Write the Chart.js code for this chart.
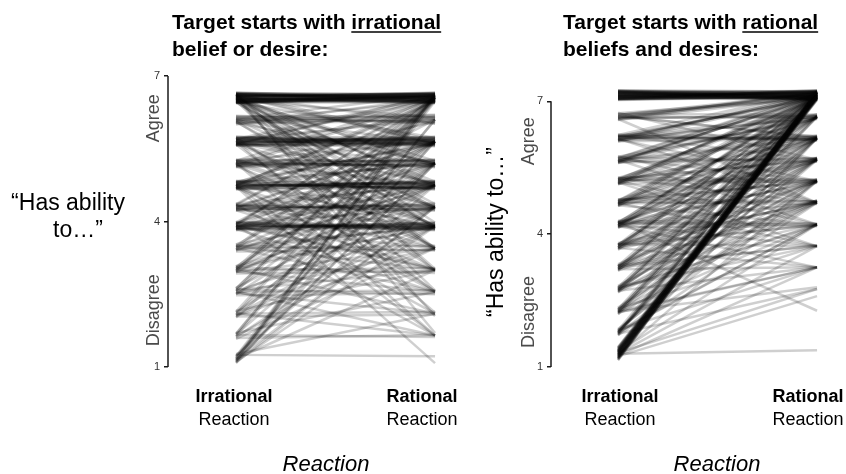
<!DOCTYPE html>
<html>
<head>
<meta charset="utf-8">
<script src="https://cdn.jsdelivr.net/npm/chart.js@4.4.1/dist/chart.umd.min.js"></script>
<style>
  html, body { margin: 0; padding: 0; background: #ffffff; }
  #wrap { position: relative; width: 846px; height: 474px; overflow: hidden; }
  canvas { position: absolute; top: 0; }
</style>
</head>
<body>
<div id="wrap">
  <canvas id="c1" width="460" height="474" style="left:0px"></canvas>
  <canvas id="c2" width="386" height="474" style="left:460px"></canvas>
</div>
<script>
// ---------- DATA ----------
const reactionLabels = ["Irrational", "Rational"];
const yTicks = [1, 4, 7];

// Left panel: target starts with irrational belief or desire
const leftIrrational = [
  6.45,6.50,6.56,6.62,6.48,6.53,6.59,6.65,6.46,6.51,
  6.57,6.63,6.44,6.49,6.55,6.61,6.66,6.47,6.52,6.58,
  6.64,6.50,6.54,6.60,6.46,6.56,6.62,6.49,6.53,6.59,
  6.45,6.63,
  6.50,6.60,6.47,6.58,6.64,6.52,6.56,6.48,6.62,6.54,6.45,6.60,6.51,6.57,6.63,6.49,6.55,6.61,
  6.02,6.10,6.18,6.06,6.14,6.00,6.12,6.08,6.16,6.04,6.11,6.07,
  5.56,5.62,5.68,5.74,5.59,5.65,5.71,5.57,5.63,5.69,5.75,5.60,5.66,5.72,
  5.61,5.67,5.58,5.70,5.64,5.62,5.68,5.60,5.73,5.66,
  5.12,5.18,5.24,5.28,5.15,5.21,5.26,5.13,5.19,5.25,5.16,5.22,5.27,5.14,5.20,5.23,
  4.66,4.72,4.78,4.84,4.69,4.75,4.81,4.67,4.73,
  4.79,4.70,4.76,4.82,4.68,4.74,4.80,4.71,4.77,4.83,4.69,4.75,4.72,
  4.22,4.28,4.34,4.25,4.31,4.37,4.24,4.30,4.36,4.27,4.33,4.29,4.23,4.35,
  3.82,3.88,3.94,3.99,3.85,3.91,3.97,3.84,
  3.90,3.96,3.83,3.89,3.95,3.86,3.92,3.98,3.87,3.93,3.85,3.91,
  3.38,3.44,3.50,3.41,3.47,3.53,3.40,3.46,3.52,3.43,3.49,3.45,
  2.93,2.99,3.05,2.96,3.02,3.08,2.95,3.01,3.07,2.98,3.04,2.97,3.03,
  2.48,2.54,2.60,2.51,2.57,2.63,2.50,2.56,2.62,2.53,2.59,2.55,
  2.04,2.10,2.16,2.06,2.12,2.08,2.14,2.02,2.11,2.07,
  1.60,1.66,1.70,1.62,1.68,1.64,1.58,1.67,
  1.25,1.10,1.16,1.22,1.08,1.13,1.19,1.24,1.11,1.17,1.21,1.14,1.27,1.09,
  6.47,6.52,6.58,6.63,6.45,6.50,6.55,6.60,6.65,6.48,6.53,6.57,6.62,6.46,6.51,6.56,6.61,6.64,
  5.58,5.63,5.69,5.74,5.60,5.66,5.71,5.57,5.64,5.70,
  4.68,4.74,4.80,4.71,4.77,4.83,4.70,4.76,
  3.84,3.90,3.96,3.87,3.93,3.86,3.92,3.98,
  6.04,6.12,6.17,6.07,
  5.14,5.20,5.26,5.17,5.23,
  4.26,4.32,4.24,4.35,
  6.50,6.58,6.47,6.62,6.53,6.56,6.60,
  6.09,6.13,6.05,
  5.61,5.67,5.63,5.70,5.59,
  5.18,5.24,5.15,5.21,
  4.73,4.79,4.70,4.76,4.81,
  4.28,4.34,4.25,4.31,
  3.88,3.94,3.85,3.91,3.97,
  3.42,3.48,3.50,
  2.97,3.03,3.06,2.99,
  2.52,2.58,2.61,
  2.05,2.13,
  1.63,1.69,
  1.12,1.18,1.15
];
const leftRational = [
  6.52,6.60,6.47,6.55,6.64,6.50,6.58,6.62,6.45,6.56,
  6.63,6.49,6.57,6.53,6.66,6.46,6.54,6.61,6.48,6.59,
  6.51,6.65,6.44,6.57,6.60,6.52,6.63,6.47,6.55,6.62,
  6.58,6.50,
  6.14,6.02,5.72,5.60,5.66,5.25,5.13,4.82,4.70,4.36,4.24,3.98,3.84,3.40,3.02,2.58,2.05,1.70,
  6.08,6.16,6.02,6.12,6.20,6.55,6.62,6.48,5.62,5.20,4.75,3.45,
  5.60,5.70,5.57,5.66,5.74,5.62,5.68,5.55,5.72,5.64,5.59,5.66,5.71,5.63,
  6.55,6.50,6.62,6.10,6.16,5.20,4.80,3.92,3.00,2.12,
  5.18,5.26,5.12,5.22,5.28,5.15,5.65,5.70,6.55,6.60,6.05,4.72,4.32,3.48,2.56,3.95,
  4.70,4.80,4.68,4.76,4.84,4.73,4.66,4.78,4.82,
  5.20,5.25,5.65,5.60,6.55,6.48,6.10,4.30,3.90,3.86,3.00,1.65,1.08,
  4.26,4.34,4.22,4.38,4.30,4.75,4.80,5.65,6.55,5.20,3.92,3.45,3.00,2.10,
  3.86,3.94,3.82,3.90,3.98,3.88,3.84,3.92,
  4.30,4.28,4.75,4.80,5.65,5.20,6.55,6.10,3.45,3.02,2.55,1.65,
  3.42,3.50,3.40,3.92,3.88,4.30,4.75,5.20,5.65,6.55,3.00,2.55,
  2.98,3.04,2.94,3.45,3.90,4.30,4.75,5.20,5.65,6.55,6.60,2.55,2.10,
  2.52,2.58,2.50,3.45,3.90,4.75,5.20,6.55,6.50,2.10,3.00,1.65,
  2.08,2.14,3.00,3.90,4.75,6.55,6.58,5.65,1.65,4.30,
  1.66,1.62,2.55,4.30,6.55,6.50,3.45,5.20,
  1.22,6.55,6.60,6.48,5.65,6.62,5.65,4.75,3.90,3.00,6.10,5.20,2.10,4.30,
  6.49,6.57,6.62,6.53,6.60,6.46,6.51,6.64,6.55,6.58,6.48,6.65,6.50,6.56,6.61,6.45,6.59,6.63,
  5.62,5.68,5.58,5.73,5.65,5.56,5.70,5.61,5.75,5.67,
  4.72,4.79,4.70,4.83,4.67,4.75,4.81,4.69,
  3.89,3.96,3.85,3.93,3.83,3.97,3.90,3.87,
  6.11,6.05,6.15,6.19,
  5.21,5.14,5.27,5.19,5.25,
  4.29,4.24,4.35,4.31,
  5.18,4.28,3.88,3.45,2.98,4.75,5.62,
  4.30,5.20,3.90,
  4.30,3.45,4.78,6.58,2.55,
  3.92,4.75,6.52,1.65,
  6.58,5.62,3.45,2.55,5.20,
  5.65,6.52,3.90,4.75,
  5.62,6.52,4.75,3.00,5.20,
  4.75,6.58,3.90,
  4.75,5.65,3.90,6.52,
  4.30,5.65,6.58,
  3.45,5.20,
  3.90,6.58,
  5.20,6.10,4.30
];

// Right panel: target starts with rational beliefs and desires
const rightIrrational = [
  7.03,7.08,7.14,7.20,7.25,7.05,7.11,7.17,7.22,7.06,
  7.12,7.18,7.24,7.04,7.09,7.15,7.21,7.07,7.13,7.19,
  7.23,7.10,7.16,7.05,7.12,7.18,7.08,7.22,7.14,7.06,
  7.20,7.11,
  6.58,6.64,6.70,6.61,6.67,6.73,6.59,6.65,6.71,6.62,6.68,6.74,6.60,6.66,
  6.09,6.15,6.21,6.12,6.18,6.24,6.10,6.16,6.22,6.13,6.19,6.25,6.11,6.17,6.23,6.14,6.20,6.16,
  5.60,5.66,5.72,5.63,5.69,5.75,5.61,5.67,5.73,5.64,5.70,5.76,5.62,5.68,5.65,
  5.12,5.18,5.24,5.15,5.21,5.27,5.13,5.19,5.25,5.16,5.22,5.28,5.14,5.20,5.26,5.17,
  4.63,4.69,4.75,4.66,4.72,4.78,4.64,4.70,4.76,4.67,4.73,4.79,4.65,4.71,4.74,
  4.14,4.20,4.26,4.17,4.23,4.29,4.15,4.21,4.27,4.18,4.24,4.30,4.16,4.22,4.28,4.19,4.25,
  3.65,3.71,3.77,3.68,3.74,3.80,3.66,3.72,3.78,3.69,3.75,3.70,3.76,
  3.17,3.23,3.29,3.20,3.26,3.32,3.18,3.24,3.30,3.21,3.27,3.22,3.28,
  2.68,2.74,2.80,2.71,2.77,2.83,2.69,2.75,2.81,2.72,2.78,2.74,
  2.19,2.25,2.31,2.22,2.28,2.34,2.20,2.26,2.32,2.23,2.29,2.25,
  1.71,1.77,1.83,1.74,1.80,1.86,1.72,1.78,1.84,1.75,1.81,1.77,
  1.15,1.20,1.25,1.30,1.35,1.40,1.45,1.18,1.22,1.28,
  1.32,1.38,1.42,1.17,1.24,1.27,1.33,1.37,1.43,1.21,
  1.26,1.31,1.36,1.19,1.29,1.34,1.23,1.39,
  1.30,1.32,1.26,1.34,1.28,1.36,1.24,1.30,
  7.04,7.09,7.15,7.21,7.24,7.06,7.12,7.18,7.23,7.07,7.13,7.19,7.10,7.16,7.22,7.05,7.11,7.17,
  1.16,1.23,1.29,1.35,1.41,1.19,1.26,1.32,1.38,1.44,1.21,1.34,
  6.63,6.69,6.61,
  6.14,6.20,6.12,6.22,6.18,
  5.64,5.71,5.66,5.70,5.62,
  5.16,5.23,5.19,5.25,5.14,5.22,
  4.68,4.74,4.66,4.72,4.77,4.70,4.69,
  4.19,4.25,4.21,4.27,4.17,4.23,4.20,4.26,
  3.70,3.76,3.68,3.74,3.71,3.77,
  3.22,3.28,3.20,3.26,3.24,
  2.73,2.79,2.71,2.77,2.75,
  2.24,2.30,2.22,2.28,2.26,
  1.76,1.82,1.74,1.80,1.78
];
const rightRational = [
  7.10,7.18,7.05,7.13,7.22,7.25,7.08,7.16,7.03,7.20,
  7.12,7.07,7.19,7.14,7.23,7.09,7.17,7.04,7.21,7.11,
  7.15,7.06,7.24,7.13,7.19,7.10,7.22,7.08,7.16,7.12,
  7.05,7.20,
  7.10,7.18,7.05,7.22,7.14,7.08,7.20,6.62,6.70,6.66,6.17,5.68,4.71,6.20,
  7.12,7.20,7.06,7.16,7.10,7.23,6.14,6.20,6.12,6.18,6.15,6.22,6.66,6.62,5.68,5.20,6.70,4.71,
  7.14,7.08,7.20,7.11,6.66,6.60,6.17,6.22,5.64,5.72,5.20,4.71,6.70,4.22,7.17,
  7.10,7.16,7.05,7.21,6.66,6.62,6.17,6.20,5.68,5.72,5.17,5.23,5.20,4.22,4.71,3.73,
  7.14,7.08,7.19,6.66,6.17,6.12,5.68,5.64,5.20,5.24,4.68,4.74,4.22,3.73,5.72,
  7.12,7.18,7.06,6.66,6.17,6.22,5.68,5.20,5.16,4.71,4.20,4.24,4.18,3.73,2.27,3.25,5.72,
  7.14,7.09,6.17,5.68,5.20,4.71,4.76,4.22,3.73,3.25,6.66,5.72,7.20,
  7.14,7.08,7.20,6.17,5.68,5.20,4.71,4.22,3.73,3.25,6.66,4.76,5.24,
  7.14,7.08,7.20,6.17,5.68,5.20,4.71,4.22,3.73,3.25,6.66,4.76,
  7.14,7.08,7.20,6.66,5.68,5.20,4.71,4.22,3.73,3.25,6.17,2.80,
  7.14,7.08,7.20,7.11,6.17,5.20,4.71,4.22,3.25,2.76,5.68,6.66,
  7.10,7.18,7.05,7.14,7.22,7.08,7.16,7.12,7.20,7.03,
  7.11,7.19,7.07,7.15,7.23,7.09,7.13,7.17,7.06,7.21,
  7.12,7.10,7.15,7.08,7.18,7.04,7.14,7.20,
  1.38,2.76,3.25,4.22,5.20,6.17,2.60,3.73,
  7.12,7.06,7.20,7.09,7.17,7.23,7.04,7.14,7.11,7.18,7.08,7.24,7.15,7.05,7.21,7.10,7.19,7.13,
  7.14,7.08,7.20,7.11,7.17,7.05,7.22,7.15,7.09,7.19,7.12,7.07,
  7.12,7.19,6.68,
  7.15,7.08,6.66,6.17,6.14,
  7.12,7.18,6.17,6.64,5.70,
  7.13,7.07,6.15,5.66,6.64,5.22,
  7.16,7.10,6.20,5.70,5.18,6.64,4.74,
  7.15,7.09,6.15,5.66,5.22,4.73,6.64,4.22,
  7.11,6.64,5.18,4.73,6.15,4.20,
  7.17,6.20,5.70,4.74,3.75,
  7.11,6.15,5.22,4.20,5.70,
  7.16,6.64,5.70,4.74,3.25,
  7.10,6.17,5.20,4.22,7.19
];

// ---------- STYLE ----------
const FONT = '"Liberation Sans", Arial, Helvetica, sans-serif';
const LINE_COLOR = 'rgba(0,0,0,0.19)';
const AXIS_COLOR = '#1a1a1a';
const SOFT_TEXT = '#4a4a4a';

function makeDatasets(starts, ends) {
  return starts.map((s, i) => ({
    data: [{ x: 0, y: s }, { x: 1, y: ends[i] }],
    borderColor: LINE_COLOR,
    borderWidth: 2.5,
    pointRadius: 0,
    tension: 0,
    fill: false,
    borderCapStyle: 'butt'
  }));
}

function decorPlugin(cfg) {
  return {
    id: 'decor' + cfg.id,
    afterDraw(chart) {
      const ctx = chart.ctx;
      const ys = chart.scales.y, xs = chart.scales.x;
      const ca = chart.chartArea;
      ctx.save();
      ctx.strokeStyle = AXIS_COLOR;
      ctx.lineWidth = 1.5;
      ctx.beginPath();
      ctx.moveTo(ca.left, ys.getPixelForValue(1));
      ctx.lineTo(ca.left, ys.getPixelForValue(7));
      ctx.stroke();

      ctx.fillStyle = '#000';
      ctx.textBaseline = 'alphabetic';
      ctx.textAlign = 'left';
      ctx.font = 'bold 21px ' + FONT;
      const pre = 'Target starts with ';
      ctx.fillText(pre, cfg.headerX, 29);
      const w1 = ctx.measureText(pre).width;
      ctx.fillText(cfg.headerWord, cfg.headerX + w1, 29);
      const w2 = ctx.measureText(cfg.headerWord).width;
      ctx.lineWidth = 1.5;
      ctx.strokeStyle = '#000';
      ctx.beginPath();
      ctx.moveTo(cfg.headerX + w1, 32);
      ctx.lineTo(cfg.headerX + w1 + w2, 32);
      ctx.stroke();
      ctx.fillText(cfg.headerLine2, cfg.headerX, 56);

      ctx.textAlign = 'center';
      reactionLabels.forEach((lab, i) => {
        const px = xs.getPixelForValue(cfg.labelPos[i]);
        ctx.font = 'bold 18px ' + FONT;
        ctx.fillText(lab, px, 402);
        ctx.font = '18px ' + FONT;
        ctx.fillText('Reaction', px, 425);
      });
      ctx.font = 'italic 22px ' + FONT;
      ctx.fillText('Reaction', cfg.xTitleX, 471);

      ctx.fillStyle = SOFT_TEXT;
      ctx.font = '18px ' + FONT;
      [['Agree', cfg.agreeAt], ['Disagree', cfg.disagreeAt]].forEach(([t, v]) => {
        ctx.save();
        ctx.translate(cfg.agreeX, ys.getPixelForValue(v));
        ctx.rotate(-Math.PI / 2);
        ctx.textAlign = 'center';
        ctx.textBaseline = 'middle';
        ctx.fillText(t, 0, 0);
        ctx.restore();
      });

      ctx.fillStyle = '#000';
      ctx.font = '23px ' + FONT;
      if (cfg.rotTitle) {
        ctx.save();
        ctx.translate(cfg.titleX, cfg.titleY);
        ctx.rotate(-Math.PI / 2);
        ctx.textAlign = 'center';
        ctx.textBaseline = 'middle';
        ctx.fillText('\u201CHas ability to\u2026\u201D', 0, 0);
        ctx.restore();
      } else {
        ctx.textAlign = 'center';
        ctx.fillText('\u201CHas ability', cfg.titleX, 210);
        ctx.fillText('to\u2026\u201D', cfg.titleX + 10, 237);
      }
      ctx.restore();
    }
  };
}

function buildChart(id, starts, ends, opts) {
  return new Chart(document.getElementById(id), {
    type: 'line',
    data: { datasets: makeDatasets(starts, ends) },
    options: {
      responsive: false,
      animation: false,
      events: [],
      layout: { padding: opts.padding },
      scales: {
        x: { type: 'linear', min: opts.xMin, max: opts.xMax, display: false },
        y: {
          type: 'linear',
          min: 1,
          max: opts.yMax,
          afterBuildTicks: s => { s.ticks = yTicks.map(v => ({ value: v })); },
          afterFit: s => { s.width = 30; },
          border: { display: false },
          grid: { display: true, drawOnChartArea: false, drawTicks: true, tickLength: 4, color: AXIS_COLOR, lineWidth: 1.5 },
          ticks: { font: { family: FONT, size: 11 }, color: '#333', padding: 4 }
        }
      },
      plugins: { legend: { display: false }, tooltip: { enabled: false } }
    },
    plugins: [decorPlugin(opts.decor)]
  });
}

buildChart('c1', leftIrrational, leftRational, {
  padding: { left: 138, right: 15, top: 76, bottom: 107 },
  xMin: -0.3417, xMax: 1.05, yMax: 7,
  decor: {
    id: 'L', headerX: 172, headerWord: 'irrational', headerLine2: 'belief or desire:',
    labelPos: [-0.01, 0.935], xTitleX: 326,
    agreeX: 154, agreeAt: 6.13, disagreeAt: 2.17,
    rotTitle: false, titleX: 68
  }
});

buildChart('c2', rightIrrational, rightRational, {
  padding: { left: 61, right: 19, top: 88, bottom: 107 },
  xMin: -0.3367, xMax: 1.05, yMax: 7.3,
  decor: {
    id: 'R', headerX: 103, headerWord: 'rational', headerLine2: 'beliefs and desires:',
    labelPos: [0.01, 0.955], xTitleX: 257,
    agreeX: 69, agreeAt: 6.1, disagreeAt: 2.24,
    rotTitle: true, titleX: 37, titleY: 232
  }
});
</script>
</body>
</html>
